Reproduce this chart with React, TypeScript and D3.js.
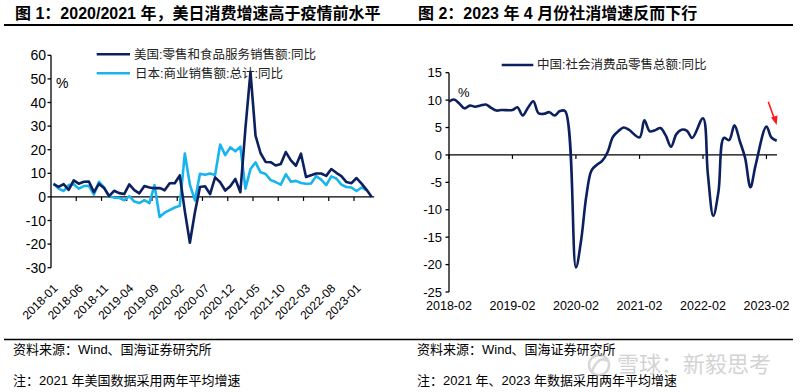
import React from 'react';
import * as d3 from 'd3';

// 图1 美国 / 日本（月度同比，%），2018-01 ~ 2023-04
const usRetail = [
  5.4, 4.2, 5.4, 3.0, 7.0, 5.6, 6.4, 6.5, 2.0, 5.5, 3.8, 0.3,
  2.6, 1.6, 1.2, 5.3, 2.9, 1.5, 4.6, 4.0, 3.7, 3.8, 2.8, 5.8,
  5.8, 9.1, -6.0, -19.4, -6.5, 4.2, 4.5, 1.2, 8.3, 6.2, 2.7, 4.5,
  7.6, 2.0, 29.0, 53.0, 26.0, 18.5, 14.8, 14.7, 13.3, 13.9, 19.0, 15.5,
  13.2, 18.3, 8.4, 9.2, 9.9, 9.9, 8.9, 11.8, 10.2, 8.8, 6.3, 5.8,
  8.0, 5.6, 3.0, 0
];
const japanSales = [
  5.7, 3.5, 2.5, 5.0, 5.4, 3.5, 4.6, 4.7, 1.0, 6.4, 4.0, 0.2,
  -0.3, -0.4, -1.4, 0.3, -2.0, -2.6, -1.4, -2.6, 5.0, -8.5, -6.7, -5.6,
  -4.5, -3.8, 18.4, 5.2, -1.5, 9.8, 9.4, 9.9, 9.3, 22.2, 17.7, 21.0,
  19.3, 21.3, 3.5, 11.8, 14.6, 10.4, 9.7, 7.1, 6.3, 5.2, 9.6, 6.4,
  6.8, 5.9, 5.6, 5.7, 8.8, 7.3, 5.0, 8.7, 7.8, 5.2, 4.2, 4.0,
  2.5, 4.0, 2.8
];
const leftTickLabels = [
  '2018-01', '2018-06', '2018-11', '2019-04', '2019-09', '2020-02', '2020-07',
  '2020-12', '2021-05', '2021-10', '2022-03', '2022-08', '2023-01'
];
const leftYTicks = [60, 50, 40, 30, 20, 10, 0, -10, -20, -30];

// 图2 中国社会消费品零售总额同比（%），1 月不单独公布
const chinaRetail = [
  9.7, 10.1, 9.4, 8.5, 9.0, 8.8, 9.0, 9.2, 8.6, 8.1, 8.2,
  8.2, 8.7, 7.2, 8.6, 9.8, 7.6, 7.5, 7.8, 7.2, 8.0, 8.0,
  -20.5, -15.8, -7.5, -2.8, -1.8, -1.1, 0.5, 3.3, 4.3, 5.0, 4.6,
  3.2, 6.3, 4.3, 4.5, 4.9, 3.6, 1.5, 3.8, 4.6, 4.4, 3.1,
  6.7, -3.5, -11.1, -6.7, 3.1, 2.7, 5.4, 2.5, -0.5, -5.9, -1.8,
  5.2, 3.2, 2.6
];
const rightTickLabels = ['2018-02', '2019-02', '2020-02', '2021-02', '2022-02', '2023-02'];
const rightYTicks = [15, 10, 5, 0, -5, -10, -15, -20, -25];

const NAVY = '#0c1f5e';
const SKY = '#17b4ee';
const FONT = '"Liberation Sans", Arial, "Noto Sans CJK SC", sans-serif';

const fmt = d3.timeFormat('%Y-%m');
const parse = d3.timeParse('%Y-%m');
const leftMonths = d3.timeMonth.range(new Date(2018, 0, 1), new Date(2023, 4, 1)).map(fmt);
const chinaMonths = d3.timeMonth
  .range(new Date(2018, 1, 1), new Date(2023, 4, 1))
  .filter(d => d.getMonth() !== 0);

function LeftChart() {
  const x = d3.scaleBand<string>().domain(leftMonths).range([51, 374.2]);
  const xc = (m: string) => (x(m) as number) + x.bandwidth() / 2;
  const y = d3.scaleLinear().domain([-30, 60]).range([267.7, 55.3]);
  const line = d3.line<number>().x((d, i) => xc(leftMonths[i])).y(d => y(d));
  const tickIdx = d3.range(5, 61, 5);

  return (
    <g>
      <text x={15} y={19} fontSize={16} fontWeight="bold" fill="#000">图 1：2020/2021 年，美日消费增速高于疫情前水平</text>
      <line x1={4} x2={400} y1={25} y2={25} stroke="#000" strokeWidth={1.8} />

      {/* y axis */}
      <line x1={51} x2={51} y1={y(60)} y2={y(-30)} stroke="#000" strokeWidth={1.3} />
      {leftYTicks.map(t => (
        <g key={t}>
          <line x1={47.5} x2={51} y1={y(t)} y2={y(t)} stroke="#000" strokeWidth={1.3} />
          <text x={46} y={y(t)} dy="0.36em" textAnchor="end" fontSize={14} fill="#000">{t}</text>
        </g>
      ))}
      <text x={56} y={88} fontSize={14} fill="#000">%</text>

      {/* x axis on zero line */}
      <line x1={51} x2={374.2} y1={y(0)} y2={y(0)} stroke="#000" strokeWidth={1.3} />
      {tickIdx.map(i => (
        <line key={i} x1={x(leftMonths[i])} x2={x(leftMonths[i])} y1={y(0)} y2={y(0) + 4} stroke="#000" strokeWidth={1.2} />
      ))}
      {leftTickLabels.map(l => (
        <text key={l} transform={`translate(${xc(l) + 5},${289}) rotate(-45)`} textAnchor="end" fontSize={12} fill="#000">{l}</text>
      ))}

      <path d={line(japanSales) || ''} fill="none" stroke={SKY} strokeWidth={2.6} strokeLinejoin="round" />
      <path d={line(usRetail) || ''} fill="none" stroke={NAVY} strokeWidth={2.6} strokeLinejoin="round" />

      {/* legend */}
      <line x1={96.7} x2={130} y1={54.3} y2={54.3} stroke={NAVY} strokeWidth={2.6} />
      <text x={134} y={58.5} fontSize={12.5} fill="#222">美国:零售和食品服务销售额:同比</text>
      <line x1={96.7} x2={130} y1={73.3} y2={73.3} stroke={SKY} strokeWidth={2.6} />
      <text x={135} y={77.5} fontSize={12.5} fill="#222">日本:商业销售额:总计:同比</text>

      <line x1={4} x2={400} y1={339.5} y2={339.5} stroke="#000" strokeWidth={1.5} />
      <text x={13} y={354} fontSize={13} fill="#000">资料来源：Wind、国海证券研究所</text>
      <text x={13} y={385} fontSize={13} fill="#000">注：2021 年美国数据采用两年平均增速</text>
    </g>
  );
}

function RightChart() {
  const x = d3.scaleTime().domain([new Date(2018, 1, 1), new Date(2023, 3, 1)]).range([449, 776.7]);
  const y = d3.scaleLinear().domain([-25, 15]).range([292, 72.7]);
  const line = d3.line<number>()
    .x((d, i) => x(chinaMonths[i]))
    .y(d => y(d))
    .curve(d3.curveCatmullRom.alpha(0.5));

  return (
    <g>
      <text x={418} y={19} fontSize={16} fontWeight="bold" fill="#000">图 2：2023 年 4 月份社消增速反而下行</text>
      <line x1={400} x2={793} y1={25} y2={25} stroke="#000" strokeWidth={1.8} />

      <line x1={449} x2={449} y1={y(15)} y2={y(-25)} stroke="#000" strokeWidth={1.3} />
      {rightYTicks.map(t => (
        <g key={t}>
          <line x1={445.5} x2={449} y1={y(t)} y2={y(t)} stroke="#000" strokeWidth={1.3} />
          <text x={442} y={y(t)} dy="0.36em" textAnchor="end" fontSize={13} fill="#000">{t}</text>
        </g>
      ))}
      <text x={458} y={97} fontSize={13} fill="#000">%</text>

      <line x1={449} x2={777} y1={y(0)} y2={y(0)} stroke="#000" strokeWidth={1.3} />
      {rightTickLabels.map(l => {
        const px = x(parse(l) as Date);
        return (
          <g key={l}>
            <line x1={px} x2={px} y1={y(0)} y2={y(0) + 4} stroke="#000" strokeWidth={1.2} />
            <text x={px} y={310} textAnchor="middle" fontSize={12.5} fill="#000">{l}</text>
          </g>
        );
      })}

      <path d={line(chinaRetail) || ''} fill="none" stroke={NAVY} strokeWidth={2.6} strokeLinejoin="round" />

      <line x1={501.7} x2={533.3} y1={65} y2={65} stroke={NAVY} strokeWidth={2.6} />
      <text x={537} y={69} fontSize={12.5} fill="#222">中国:社会消费品零售总额:同比</text>

      {/* red arrow */}
      <line x1={768.3} x2={774.5} y1={101.7} y2={119} stroke="#ff1a1a" strokeWidth={1.6} />
      <polygon points="776.7,125 771,117.5 777.5,115.5" fill="#ff1a1a" />

      <line x1={400} x2={793} y1={339.5} y2={339.5} stroke="#000" strokeWidth={1.5} />
      <text x={417} y={354} fontSize={13} fill="#000">资料来源：Wind、国海证券研究所</text>
      <text x={417} y={385} fontSize={13} fill="#000">注：2021 年、2023 年数据采用两年平均增速</text>

      {/* watermark */}
      <g opacity={0.55}>
        <circle cx={599} cy={365} r={10} fill="none" stroke="#b8b8b8" strokeWidth={2.5} />
        <path d="M592,371 Q599,355 607,361" fill="none" stroke="#b8b8b8" strokeWidth={2.5} />
        <text x={617} y={372} fontSize={22} fill="#b0b0b0">雪球：新毅思考</text>
      </g>
    </g>
  );
}

export default function App() {
  return (
    <svg width={800} height={392} style={{ position: 'absolute', left: 0, top: 0, background: '#fff' }}
      fontFamily={FONT}>
      <rect width={800} height={392} fill="#fff" />
      <LeftChart />
      <RightChart />
    </svg>
  );
}
